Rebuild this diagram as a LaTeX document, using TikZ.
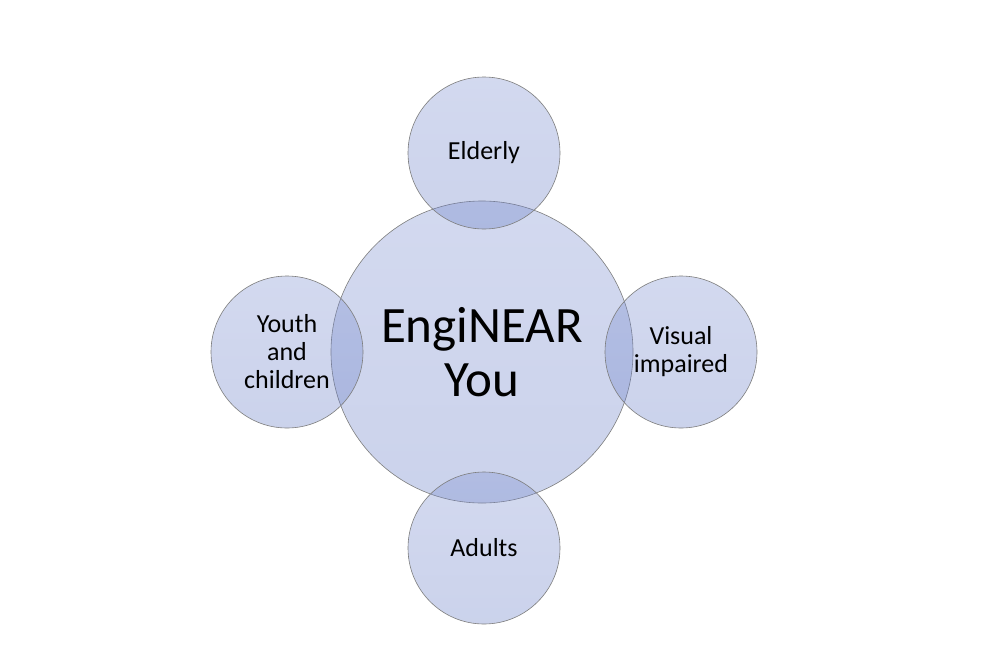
\documentclass[tikz,border=0pt]{standalone}
\usepackage{fontspec}
\setmainfont{Carlito}
\definecolor{bubbletop}{RGB}{125,144,208}
\definecolor{bubblebot}{RGB}{102,124,197}
\definecolor{bubbleline}{RGB}{125,125,125}
\begin{document}
\begin{tikzpicture}[x=1pt,y=-1pt,
	bubble/.style={circle, draw=bubbleline, line width=0.6pt, top color=bubbletop, bottom color=bubblebot, fill opacity=0.34, draw opacity=1, text opacity=1, inner sep=0pt, align=center},
	small/.style={bubble, minimum size=152pt, font=\fontsize{26}{28}\selectfont},
	big/.style={bubble, minimum size=302pt, font=\fontsize{51}{54}\selectfont}]
	\useasboundingbox (0,0) rectangle (1002,646);
	\node[big] (hub) at (482,352) {EngiNEAR\\You};
	\node[small] (elderly) at (484,153) {Elderly};
	\node[small] (youth) at (287,352) {Youth\\and\\children};
	\node[small] (visual) at (681,352) {Visual\\impaired};
	\node[small] (adults) at (484,548) {Adults};
\end{tikzpicture}
\end{document}
